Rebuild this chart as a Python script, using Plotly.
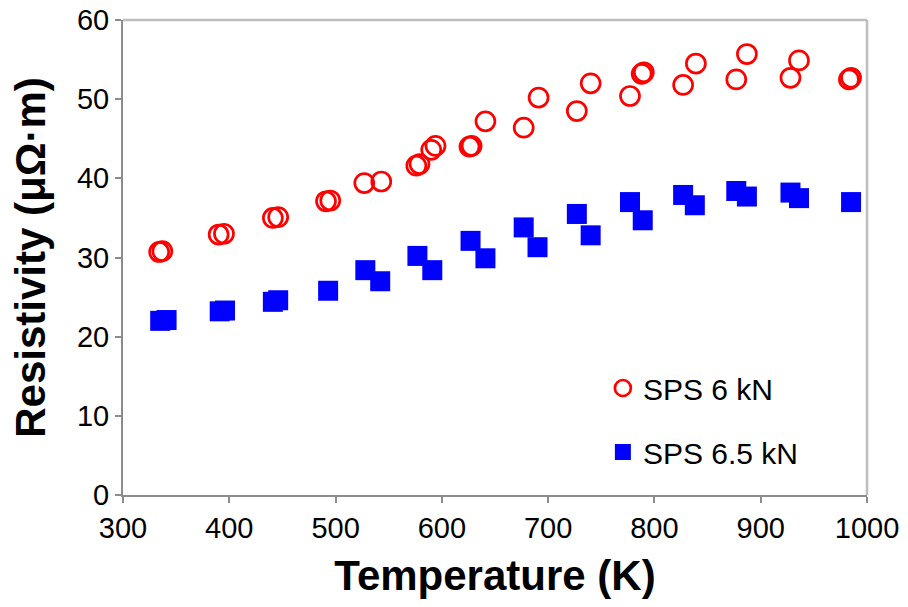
import plotly.graph_objects as go

# SPS 6 kN (open red circles)
temp_6kN = [334, 337, 390, 395, 441, 446, 491, 495, 527, 543, 576, 579, 590, 594,
            626, 628, 641, 677, 691, 727, 740, 777, 788, 790, 827, 839, 877, 887,
            928, 936, 983, 985]
rho_6kN = [30.7, 30.8, 32.9, 33.0, 35.0, 35.1, 37.1, 37.2, 39.4, 39.6, 41.6, 41.8,
           43.6, 44.1, 44.0, 44.1, 47.2, 46.4, 50.2, 48.5, 52.0, 50.4, 53.2, 53.4,
           51.8, 54.5, 52.5, 55.7, 52.7, 54.9, 52.5, 52.7]

# SPS 6.5 kN (filled blue squares)
temp_65kN = [335, 341, 391, 396, 441, 446, 493, 528, 542, 577, 591, 627, 641, 677,
             690, 727, 740, 777, 789, 827, 838, 877, 887, 928, 936, 985]
rho_65kN = [22.0, 22.1, 23.2, 23.3, 24.4, 24.6, 25.8, 28.4, 27.0, 30.2, 28.4, 32.1,
            29.9, 33.8, 31.3, 35.5, 32.8, 37.0, 34.7, 37.9, 36.6, 38.4, 37.7, 38.2,
            37.5, 37.0]

x_ticks = [300, 400, 500, 600, 700, 800, 900, 1000]
y_ticks = [0, 10, 20, 30, 40, 50, 60]

FONT = "Liberation Sans, Arial, sans-serif"

fig = go.Figure()
fig.add_trace(go.Scatter(
    x=temp_6kN, y=rho_6kN, mode="markers", name="SPS 6 kN", legendgroup="a",
    marker=dict(symbol="circle-open", size=19, color="#FF0000",
                line=dict(width=2.7, color="#FF0000")),
))
fig.add_trace(go.Scatter(
    x=temp_65kN, y=rho_65kN, mode="markers", name="SPS 6.5 kN", legendgroup="b",
    marker=dict(symbol="square", size=20, color="#0000FF",
                line=dict(width=0)),
))

axis_common = dict(
    showgrid=False, zeroline=False, showline=True, linecolor="#8C8C8C",
    linewidth=2, ticks="outside", ticklen=6, tickwidth=1.5, tickcolor="#8C8C8C",
    tickfont=dict(family=FONT, size=29, color="black"), automargin=False,
)

fig.update_layout(
    width=908, height=607,
    margin=dict(l=123, r=41, t=20, b=112),
    paper_bgcolor="white", plot_bgcolor="white",
    font=dict(family=FONT, color="black"),
    xaxis=dict(range=[300, 1000], tickvals=x_ticks,
               title=dict(text="<b>Temperature (K)</b>",
                          font=dict(family=FONT, size=42), standoff=18),
               **axis_common),
    yaxis=dict(range=[0, 60], tickvals=y_ticks,
               title=dict(text="<b>Resistivity (μΩ·m)</b>",
                          font=dict(family=FONT, size=42), standoff=18),
               **axis_common),
    legend=dict(x=0.645, y=0.28, xanchor="left", yanchor="top",
                bgcolor="rgba(0,0,0,0)", font=dict(family=FONT, size=30),
                tracegroupgap=22, traceorder="grouped"),
    shapes=[dict(type="line", xref="x domain", yref="paper", x0=0, x1=1,
                 y0=1, y1=1, line=dict(color="#BDBDBD", width=2.5), layer="above"),
            dict(type="line", xref="x domain", yref="y domain", x0=1, x1=1,
                 y0=0, y1=1, line=dict(color="#BDBDBD", width=2.5), layer="above")],
)

fig.write_html("out.html", config={"displayModeBar": False},
               post_script="document.body.style.margin='0';")
